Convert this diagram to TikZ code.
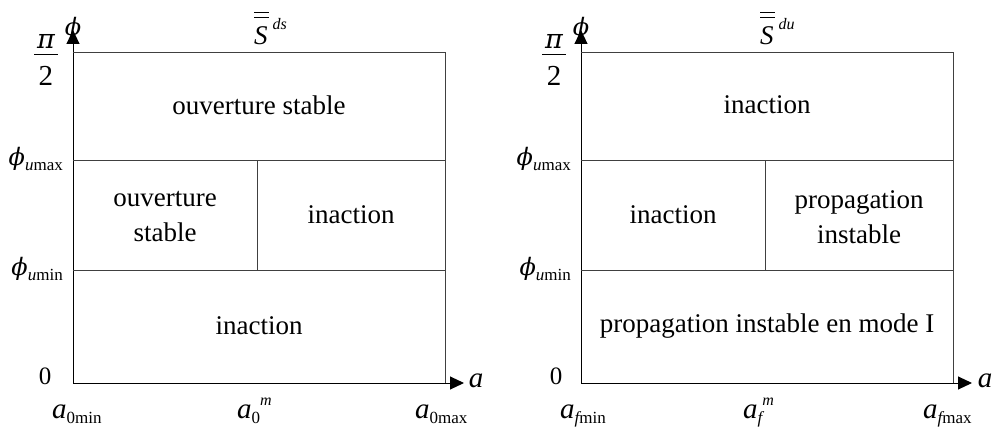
\documentclass[tikz,border=0pt]{standalone}
\usepackage{fontspec}
\setmainfont{Liberation Serif}
\newfontfamily\grk{DejaVu Serif}
\usetikzlibrary{arrows.meta}

\tikzset{
  zone/.style={font=\fontsize{27}{35}\selectfont, align=center, inner sep=0pt},
  lbl/.style={font=\fontsize{29}{32}\selectfont, inner sep=0pt},
  num/.style={font=\fontsize{25}{28}\selectfont, inner sep=0pt},
  axis/.style={line width=1pt, -{Triangle[length=14pt,width=13pt]}},
  frame/.style={line width=0.9pt, black!75}
}
\newcommand{\ita}{\textit{a}}
\newcommand{\lo}[1]{\raisebox{-5pt}{\fontsize{17}{17}\selectfont #1}}
\newcommand{\hi}[1]{\raisebox{13pt}{\fontsize{16}{16}\selectfont #1}}
\newcommand{\fphi}{{\grk\itshape\fontsize{24}{24}\selectfont ϕ}}
\newcommand{\halfpi}{\vbox{\hbox to 24pt{\hss{\grk\itshape\fontsize{27}{27}\selectfont π}\hss}\kern5pt
  \hrule height 1pt\kern11pt\hbox to 24pt{\hss\fontsize{29}{29}\selectfont 2\hss}}}
\newcommand{\dbars}{\vbox{\hrule height 1.2pt\kern3.5pt\hrule height 1.2pt\kern9pt
  \hbox{\fontsize{27}{27}\selectfont\itshape S\kern1pt}}}

\begin{document}
\begin{tikzpicture}[x=1pt, y=-1pt]
  \useasboundingbox (0,0) rectangle (992,428);

  % left diagram
  \coordinate (O1) at (73,383);
  \coordinate (Y1) at (73,30);
  \coordinate (X1) at (464,383);
  \coordinate (T1) at (73,52);
  \coordinate (C1) at (445,52);
  \coordinate (D1) at (445,383);
  \coordinate (U1) at (73,160);
  \coordinate (UR1) at (445,160);
  \coordinate (L1) at (73,270);
  \coordinate (LR1) at (445,270);
  \coordinate (M1) at (257,160);
  \coordinate (N1) at (257,270);

  \draw[axis] (O1) -- (Y1);
  \draw[axis] (O1) -- (X1);
  \draw[frame] (T1) -- (C1) -- (D1);
  \draw[frame] (U1) -- (UR1);
  \draw[frame] (L1) -- (LR1);
  \draw[frame] (M1) -- (N1);

  \node[zone] (stab1) at (259,105) {ouverture stable};
  \node[zone] (stab2) at (165,217) {ouverture\\stable};
  \node[zone] (inac1) at (351,215) {inaction};
  \node[zone] (inac2) at (259,326) {inaction};

  \node[lbl, anchor=base] (pi1) at (46,85) {\halfpi};
  \node[lbl] (phi1) at (73,29) {\fphi};
  \node[lbl, anchor=base west] (S1) at (254,45) {\dbars\hspace{4pt}\raisebox{15pt}{\fontsize{16}{16}\selectfont\itshape ds}};
  \node[lbl, anchor=base east] (pmax1) at (63,165) {\fphi\lo{\itshape u\upshape max}};
  \node[lbl, anchor=base east] (pmin1) at (63,275) {\fphi\lo{\itshape u\upshape min}};
  \node[num] (zero1) at (45,376) {0};
  \node[lbl, anchor=base] (a1) at (476,387) {\ita};
  \node[lbl, anchor=base west] (amin1) at (52,418) {\ita\lo{0min}};
  \node[lbl, anchor=base west] (am1) at (237,418) {\ita\lo{0}\hi{\itshape m}};
  \node[lbl, anchor=base west] (amax1) at (415,418) {\ita\lo{0max}};

  % right diagram
  \coordinate (O2) at (581,383);
  \coordinate (Y2) at (581,30);
  \coordinate (X2) at (972,383);
  \coordinate (T2) at (581,52);
  \coordinate (C2) at (953,52);
  \coordinate (D2) at (953,383);
  \coordinate (U2) at (581,160);
  \coordinate (UR2) at (953,160);
  \coordinate (L2) at (581,270);
  \coordinate (LR2) at (953,270);
  \coordinate (M2) at (765,160);
  \coordinate (N2) at (765,270);

  \draw[axis] (O2) -- (Y2);
  \draw[axis] (O2) -- (X2);
  \draw[frame] (T2) -- (C2) -- (D2);
  \draw[frame] (U2) -- (UR2);
  \draw[frame] (L2) -- (LR2);
  \draw[frame] (M2) -- (N2);

  \node[zone] (inac3) at (767,105) {inaction};
  \node[zone] (inac4) at (673,215) {inaction};
  \node[zone] (prop1) at (859,217) {propagation\\instable};
  \node[zone] (prop2) at (767,326) {propagation instable en mode I};

  \node[lbl, anchor=base] (pi2) at (554,85) {\halfpi};
  \node[lbl] (phi2) at (581,29) {\fphi};
  \node[lbl, anchor=base west] (S2) at (760,45) {\dbars\hspace{4pt}\raisebox{15pt}{\fontsize{16}{16}\selectfont\itshape du}};
  \node[lbl, anchor=base east] (pmax2) at (571,165) {\fphi\lo{\itshape u\upshape max}};
  \node[lbl, anchor=base east] (pmin2) at (571,275) {\fphi\lo{\itshape u\upshape min}};
  \node[num] (zero2) at (556,376) {0};
  \node[lbl, anchor=base] (a2) at (985,387) {\ita};
  \node[lbl, anchor=base west] (amin2) at (560,418) {\ita\lo{\itshape f\upshape min}};
  \node[lbl, anchor=base west] (am2) at (743,418) {\ita\lo{\itshape f}\hi{\itshape m}};
  \node[lbl, anchor=base west] (amax2) at (923,418) {\ita\lo{\itshape f\upshape max}};
\end{tikzpicture}
\end{document}
